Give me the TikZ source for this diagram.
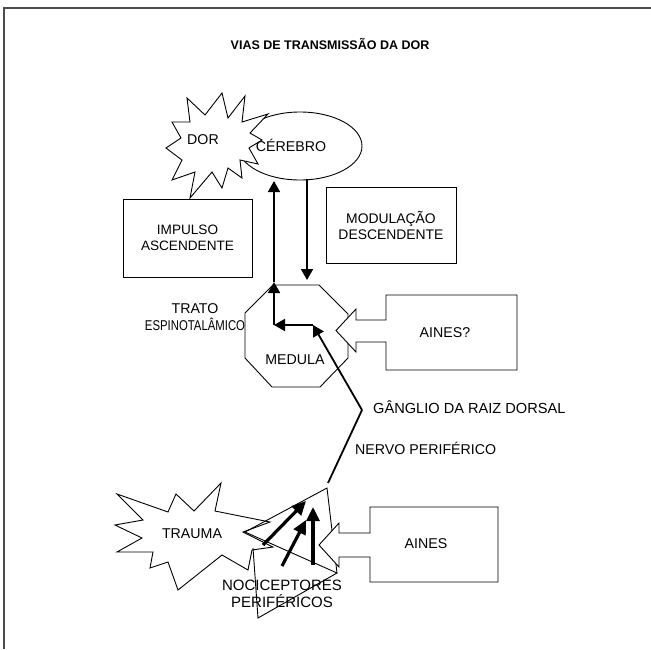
\documentclass[tikz,border=0pt]{standalone}
\usepackage{fontspec}
\setmainfont{Liberation Sans}
\usetikzlibrary{arrows.meta,shapes.geometric}
\begin{document}
\begin{tikzpicture}[x=1pt,y=-1pt,
  outline/.style={draw=black, line width=0.9pt, fill=white, line join=miter},
  txt/.style={font=\fontsize{14.2}{16.5}\selectfont, align=center, inner sep=0pt},
  big txt/.style={txt, font=\fontsize{15}{16.5}\selectfont},
  flow/.style={line width=1.8pt, -{Triangle[length=11pt,width=12pt]}},
  signal/.style={line width=3.2pt, -{Triangle[length=14pt,width=13pt]}},
  nerve/.style={line width=1.8pt}]
\useasboundingbox (0,0) rectangle (651,649);

% frame
\draw[line width=1.2pt, black!70] (4,649) -- (4,8) -- (651,8);

% title
\node[font=\bfseries\fontsize{12.5}{15}\selectfont] (title) at (330,44) {VIAS DE TRANSMISSÃO DA DOR};

% brain
\node[ellipse, draw, line width=0.9pt, minimum width=124, minimum height=68, inner sep=0pt] (cerebro) at (300,146) {};

% pain burst
\draw[outline] (222,93) -- (228,118) -- (245,96) -- (242,122) -- (268,114) -- (250,133)
  -- (262,140) -- (249,148) -- (258,164) -- (240,160) -- (242,178) -- (228,168)
  -- (222,188) -- (212,172) -- (190,198) -- (195,172) -- (172,180) -- (182,160)
  -- (166,148) -- (181,138) -- (172,122) -- (190,122) -- (187,98) -- (205,115) -- cycle;
\node[txt] (dor) at (203,140) {DOR};
\node[txt] (cerebrotxt) at (291,145) {CÉREBRO};

% boxes
\node[outline, rectangle, txt, font=\fontsize{13.6}{16}\selectfont, minimum width=129, minimum height=78] (impulso) at (187.5,238) {IMPULSO\\ASCENDENTE};
\node[outline, rectangle, txt, font=\fontsize{13.9}{16}\selectfont, minimum width=130, minimum height=76] (modulacao) at (391,225) {MODULAÇÃO\\DESCENDENTE};

% spinal cord
\draw[outline] (273,285) -- (319,285) -- (348,314) -- (348,358) -- (320,387) -- (272,387)
  -- (245,358) -- (245,313) -- cycle;
\node[txt] (medula) at (295,360) {MEDULA};
\node[txt] (trato) at (195,317) {TRATO\\\scalebox{0.8}[1]{ESPINOTALÂMICO}};

% trauma burst
\draw[outline] (117,494) -- (168,512) -- (176,494) -- (194,511) -- (221,483) -- (215,511)
  -- (270,522) -- (243,532) -- (273,547) -- (252,550) -- (248,570) -- (222,555)
  -- (178,590) -- (168,562) -- (150,568) -- (153,552) -- (117,552) -- (142,538)
  -- (115,525) -- (143,520) -- cycle;
\node[txt] (trauma) at (192,534) {TRAUMA};

% nociceptor terminal
\draw[line width=0.9pt] (327,488) -- (245,532) -- (337,573) -- cycle;
\draw[line width=0.9pt] (253,548) -- (258,618) -- (337,573);

% drug callouts
\draw[outline] (386,295) -- (517,295) -- (517,370) -- (386,370) -- (386,342) -- (356,342)
  -- (356,352) -- (336,330.5) -- (356,309) -- (356,320) -- (386,320) -- cycle;
\node[txt] (ainesq) at (445,333) {AINES?};
\draw[outline] (370,507) -- (498,507) -- (498,582) -- (370,582) -- (370,557) -- (339,557)
  -- (339,567) -- (319,545) -- (339,523) -- (339,533) -- (370,533) -- cycle;
\node[txt] (aines) at (426,544) {AINES};

% pathway coordinates
\coordinate (terminal) at (328,483);
\coordinate (ganglio) at (362,410);
\coordinate (entry) at (313,325);
\coordinate (corner) at (274,325);
\coordinate (cordtop) at (274,282);
\coordinate (brainin) at (274,181);
\coordinate (brainout) at (307,179);
\coordinate (cordin) at (307,280);

\draw[nerve] (terminal) -- (ganglio);
\draw[flow] (ganglio) -- (entry);
\draw[flow] (entry) -- (corner);
\draw[flow] (corner) -- (cordtop);
\draw[flow] (cordtop) -- (brainin);
\draw[flow] (brainout) -- (cordin);

% stimulus arrows
\coordinate (s1a) at (263,545); \coordinate (s1b) at (306,501);
\coordinate (s2a) at (282,566); \coordinate (s2b) at (306,520);
\coordinate (s3a) at (313,565); \coordinate (s3b) at (313,507);
\draw[signal] (s1a) -- (s1b);
\draw[signal] (s2a) -- (s2b);
\draw[signal] (s3a) -- (s3b);

\node[txt, font=\fontsize{14.6}{16.5}\selectfont, anchor=west] (ganglabel) at (373,407) {GÂNGLIO DA RAIZ DORSAL};
\node[txt, anchor=west] (nervolabel) at (355,448) {NERVO PERIFÉRICO};
\node[big txt] (noci) at (282,594) {NOCICEPTORES\\PERIFÉRICOS};
\end{tikzpicture}
\end{document}
